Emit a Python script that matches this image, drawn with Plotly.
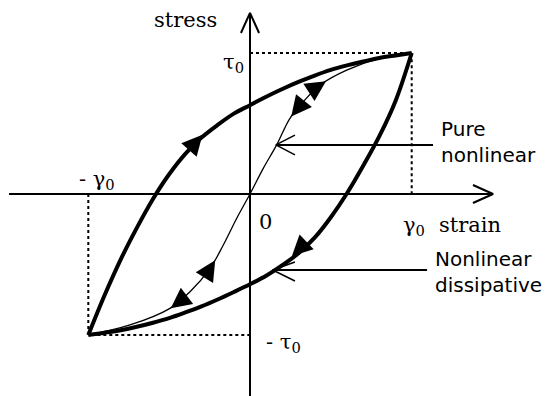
import plotly.graph_objects as go

# strain / stress normalised by gamma_0 and tau_0
strain_grid = [-1.0, -0.9, -0.8, -0.7, -0.6, -0.5, -0.4, -0.3, -0.2, -0.1, 0.0,
               0.1, 0.2, 0.3, 0.4, 0.5, 0.6, 0.7, 0.8, 0.9, 1.0]

# loading branch (upper, thick)
up_stress = [-1.0, -0.72, -0.465, -0.24, -0.035, 0.14, 0.285, 0.40, 0.49, 0.57, 0.63,
             0.69, 0.745, 0.795, 0.84, 0.88, 0.912, 0.94, 0.965, 0.983, 1.0]

# unloading branch (lower, thick)
lo_stress = [-1.0, -0.984, -0.966, -0.942, -0.913, -0.88, -0.84, -0.797, -0.748, -0.695, -0.64,
             -0.58, -0.505, -0.42, -0.31, -0.165, 0.005, 0.20, 0.41, 0.66, 1.0]

# pure nonlinear curve (thin)
thin_strain = [-1.0, -0.742, -0.495, -0.371, -0.247, -0.165, -0.082, 0.0,
               0.082, 0.165, 0.247, 0.330, 0.433, 0.598, 0.804, 1.0]
thin_stress = [-1.0, -0.929, -0.811, -0.693, -0.527, -0.362, -0.172, 0.0,
               0.182, 0.348, 0.537, 0.655, 0.773, 0.879, 0.962, 1.0]

# direction arrows on the curves: tail -> head (short, so only the head shows)
arrow_tail_x = [-0.34, 0.43, 0.29, 0.30, -0.245, -0.45]
arrow_tail_y = [0.36, 0.77, 0.60, -0.395, -0.525, -0.775]
arrow_head_x = [-0.294, 0.47, 0.255, 0.259, -0.215, -0.49]
arrow_head_y = [0.42, 0.80, 0.55, -0.44, -0.47, -0.81]

# pixel mapping: origin at (250,194), 161.7 px per gamma_0, 141 px per tau_0
W, H = 547, 396
SX, SY = 161.7, 141
x_range = [-250 / SX, (W - 250) / SX]
y_range = [-(H - 194) / SY, 194 / SY]

fig = go.Figure()

def seg(xs, ys, width, dash="solid"):
    fig.add_trace(go.Scatter(x=xs, y=ys, mode="lines", hoverinfo="skip",
                             line=dict(color="black", width=width, dash=dash)))

# axes with open arrowheads
seg([-1.49, 1.503], [0, 0], 2)
seg([1.379, 1.503, 1.379], [0.064, 0, -0.064], 2)
seg([0, 0], [y_range[0], 1.284], 2)
seg([-0.056, 0, 0.056], [1.142, 1.284, 1.142], 2)

# dotted guides to the tips
seg([0, 1, 1], [1, 1, 0], 2, "dot")
seg([-1, -1, 0], [0, -1, -1], 2, "dot")

# loop
fig.add_trace(go.Scatter(x=strain_grid, y=up_stress, mode="lines", hoverinfo="skip",
                         line=dict(color="black", width=4, shape="spline", smoothing=1)))
fig.add_trace(go.Scatter(x=strain_grid, y=lo_stress, mode="lines", hoverinfo="skip",
                         line=dict(color="black", width=4, shape="spline", smoothing=1)))
fig.add_trace(go.Scatter(x=thin_strain, y=thin_stress, mode="lines", hoverinfo="skip",
                         line=dict(color="black", width=1.3, shape="spline", smoothing=1)))

for tx, ty, hx, hy in zip(arrow_tail_x, arrow_tail_y, arrow_head_x, arrow_head_y):
    fig.add_annotation(x=hx, y=hy, ax=tx, ay=ty, xref="x", yref="y", axref="x", ayref="y",
                       text="", showarrow=True, arrowhead=2, arrowsize=3.4, arrowwidth=1.2,
                       arrowcolor="black", standoff=0, startstandoff=0)

# pointer lines for the labels
seg([1.132, 0.16], [0.348, 0.348], 2)
seg([0.278, 0.16, 0.278], [0.418, 0.348, 0.277], 1.5)
seg([1.095, 0.14], [-0.539, -0.539], 2)
seg([0.278, 0.14, 0.278], [-0.482, -0.539, -0.617], 1.5)

serif = dict(family="DejaVu Serif", size=21, color="black")
sans = dict(family="DejaVu Sans", size=20, color="black")

def label(x, y, text, font, xanchor="center", align="center"):
    fig.add_annotation(x=x, y=y, text=text, showarrow=False, font=font,
                       xanchor=xanchor, yanchor="middle", align=align)

label(-0.396, 1.234, "stress", serif)
label(1.361, -0.22, "strain", serif)
label(-0.025, 0.93, "τ<sub>0</sub>", serif, xanchor="right")
label(-0.946, 0.10, "- γ<sub>0</sub>", serif)
label(0.093, -0.20, "0", serif)
label(1.014, -0.23, "γ<sub>0</sub>", serif)
label(0.21, -1.06, "- τ<sub>0</sub>", serif)
label(1.169, 0.369, "Pure<br>nonlinear", sans, xanchor="left", align="left")
label(1.132, -0.553, "Nonlinear<br>dissipative", sans, xanchor="left", align="left")

fig.update_layout(width=W, height=H, margin=dict(l=0, r=0, t=0, b=0),
                  plot_bgcolor="white", paper_bgcolor="white", showlegend=False,
                  xaxis=dict(range=x_range, visible=False, fixedrange=True),
                  yaxis=dict(range=y_range, visible=False, fixedrange=True))

fig.write_html("out.html", config={"displayModeBar": False},
               post_script="document.body.style.margin='0';")
